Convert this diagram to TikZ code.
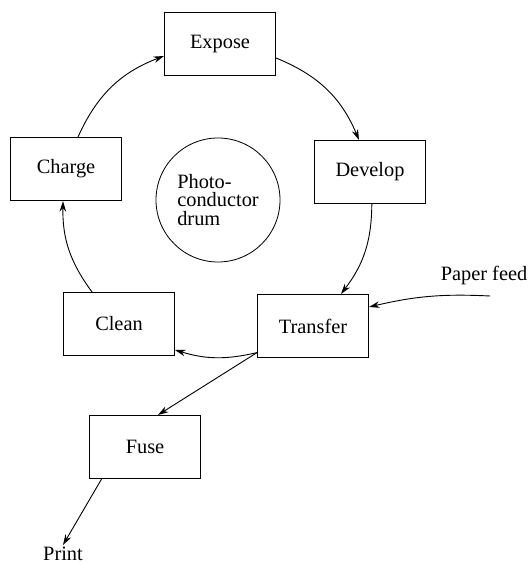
\documentclass[tikz,border=0pt]{standalone}
\usepackage{fontspec}
\setmainfont{Liberation Serif}
\usetikzlibrary{arrows.meta}
\begin{document}
\begin{tikzpicture}[x=0.55pt,y=-0.55pt,
  stagebox/.style={draw,line width=0.6pt,minimum width=61pt,minimum height=34.65pt,inner sep=0pt,font=\fontsize{11.2}{12}\selectfont},
  flow/.style={line width=0.5pt,-{Stealth[length=5.8pt,width=3.6pt]}},
  lbl/.style={inner sep=1pt,font=\fontsize{11.2}{12}\selectfont}]
\useasboundingbox (0,0) rectangle (530,563);
\node[stagebox] (expose) at (220,44) {Expose};
\node[stagebox] (charge) at (66,169) {Charge};
\node[stagebox] (develop) at (370,172) {Develop};
\node[stagebox] (clean) at (119,324) {Clean};
\node[stagebox] (transfer) at (313,326) {Transfer};
\node[stagebox] (fuse) at (145,447) {Fuse};
\node[draw,circle,line width=0.45pt,minimum size=68.2pt,inner sep=0pt,align=left,
  font=\fontsize{11.2}{10}\selectfont] (drum) at (218,200) {Photo-\\conductor\\drum};
\node[lbl] (paper) at (484,276) {Paper feed};
\node[lbl] (print) at (63,554) {Print};
\coordinate (pfstart) at (490,296);
\draw[flow] ([xshift=6.6pt]charge.north) to[bend left=22.5] ([yshift=-6.6pt]expose.west);
\draw[flow] ([yshift=-7.7pt]expose.east) to[bend left=22.5] ([xshift=-6.05pt]develop.north);
\draw[flow] ([xshift=1pt]develop.south) to[bend left=18.5] ([xshift=15.4pt]transfer.north);
\draw[flow] ([yshift=3pt]transfer.south west) to[bend left=15] ([yshift=-14.3pt]clean.east);
\draw[flow] ([xshift=-14.85pt]clean.north) to[bend left=18.7] ([xshift=-1.65pt]charge.south);
\draw[flow] (pfstart) to[bend right=8] ([yshift=10.45pt]transfer.east);
\draw[flow] ([yshift=3pt]transfer.south west) -- ([xshift=7.15pt]fuse.north);
\draw[flow] ([xshift=6.9pt]fuse.south west) -- (print.north);
\end{tikzpicture}
\end{document}
